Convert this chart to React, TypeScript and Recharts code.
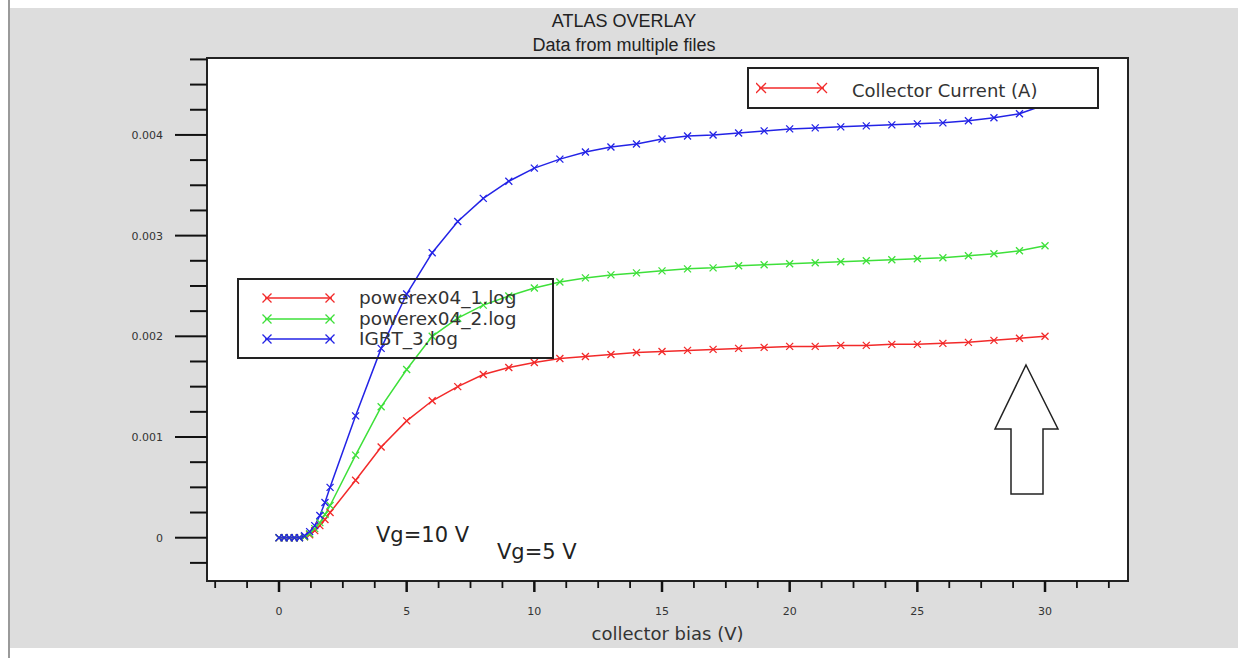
import React from 'react';
import { LineChart, Line, XAxis, YAxis, Legend } from 'recharts';

// collector bias (V)
const BIAS = [0, 0.2, 0.4, 0.6, 0.8, 1, 1.2, 1.4, 1.6, 1.8, 2, 3, 4, 5, 6, 7, 8, 9, 10, 11, 12, 13, 14, 15, 16, 17, 18, 19, 20, 21, 22, 23, 24, 25, 26, 27, 28, 29, 30];

// collector current (A)
const POWEREX_1 = [0, 0, 0, 0, 0, 0.00001, 0.00003, 0.00007, 0.00012, 0.00018, 0.00025, 0.00057, 0.0009, 0.00116, 0.00136, 0.0015, 0.00162, 0.00169, 0.00174, 0.00178, 0.0018, 0.00182, 0.00184, 0.00185, 0.00186, 0.00187, 0.00188, 0.00189, 0.0019, 0.0019, 0.00191, 0.00191, 0.00192, 0.00192, 0.00193, 0.00194, 0.00196, 0.00198, 0.002];
const POWEREX_2 = [0, 0, 0, 0, 0, 0.00001, 0.00004, 0.00009, 0.00015, 0.00023, 0.00032, 0.00082, 0.0013, 0.00167, 0.002, 0.00218, 0.00231, 0.0024, 0.00248, 0.00254, 0.00258, 0.00261, 0.00263, 0.00265, 0.00267, 0.00268, 0.0027, 0.00271, 0.00272, 0.00273, 0.00274, 0.00275, 0.00276, 0.00277, 0.00278, 0.0028, 0.00282, 0.00285, 0.0029];
const IGBT_3 = [0, 0, 0, 0, 0, 0.00002, 0.00006, 0.00012, 0.00022, 0.00035, 0.0005, 0.00121, 0.00188, 0.00242, 0.00283, 0.00314, 0.00337, 0.00354, 0.00367, 0.00376, 0.00383, 0.00388, 0.00391, 0.00396, 0.00399, 0.004, 0.00402, 0.00404, 0.00406, 0.00407, 0.00408, 0.00409, 0.0041, 0.00411, 0.00412, 0.00414, 0.00417, 0.00421, 0.0043];

const X_MAJOR = [0, 5, 10, 15, 20, 25, 30];
const X_TICKS = [-2.5, -1.25, 0, 1.25, 2.5, 3.75, 5, 6.25, 7.5, 8.75, 10, 11.25, 12.5, 13.75, 15, 16.25, 17.5, 18.75, 20, 21.25, 22.5, 23.75, 25, 26.25, 27.5, 28.75, 30, 31.25, 32.5];
const Y_MAJOR = [0, 0.001, 0.002, 0.003, 0.004];
const Y_TICKS = [-0.00025, 0, 0.00025, 0.0005, 0.00075, 0.001, 0.00125, 0.0015, 0.00175, 0.002, 0.00225, 0.0025, 0.00275, 0.003, 0.00325, 0.0035, 0.00375, 0.004, 0.00425, 0.0045, 0.00475];

const SERIES = [
  { key: 'p1', name: 'powerex04_1.log', color: '#f22a2a', values: POWEREX_1 },
  { key: 'p2', name: 'powerex04_2.log', color: '#3ee03a', values: POWEREX_2 },
  { key: 'igbt', name: 'IGBT_3.log', color: '#2323e6', values: IGBT_3 },
];

const data = BIAS.map((x, i) => ({
  x,
  p1: POWEREX_1[i],
  p2: POWEREX_2[i],
  igbt: IGBT_3[i],
}));

const isMajor = (list: number[], v: number) => list.some(m => Math.abs(m - v) < 1e-9);

const XMark = (props: any) => {
  const { cx, cy, stroke, size } = props;
  if (cx == null || cy == null) return null;
  const s = size || 3.5;
  return (
    <path
      d={`M${cx - s},${cy - s}L${cx + s},${cy + s}M${cx - s},${cy + s}L${cx + s},${cy - s}`}
      stroke={stroke}
      strokeWidth={1.3}
      fill="none"
    />
  );
};

const YTick = (props: any) => {
  const { x, y, payload } = props;
  const major = isMajor(Y_MAJOR, payload.value);
  return (
    <g>
      <line x1={x - (major ? 32 : 17)} x2={x} y1={y} y2={y} stroke="#111" strokeWidth={2} />
      {major && (
        <text x={x - 44} y={y + 4} textAnchor="end" fontSize={11} fill="#333" fontFamily="DejaVu Sans">
          {payload.value}
        </text>
      )}
    </g>
  );
};

const XTick = (props: any) => {
  const { x, y, payload } = props;
  const major = isMajor(X_MAJOR, payload.value);
  return (
    <g>
      <line x1={x} x2={x} y1={y} y2={y + (major ? 11 : 7)} stroke="#111" strokeWidth={major ? 2.5 : 1.8} />
      {major && (
        <text x={x} y={y + 34} textAnchor="middle" fontSize={11} fill="#333" fontFamily="DejaVu Sans">
          {payload.value}
        </text>
      )}
    </g>
  );
};

const LegendLine = ({ color }: { color: string }) => (
  <svg width={74} height={14} style={{ display: 'block' }}>
    <line x1={3} x2={70} y1={7} y2={7} stroke={color} strokeWidth={1.5} />
    <XMark cx={5} cy={7} stroke={color} size={4.5} />
    <XMark cx={68} cy={7} stroke={color} size={4.5} />
  </svg>
);

// the legend box in the reference lets the curves show through
const SeriesLegend = () => (
  <div
    style={{
      width: 313,
      height: 69,
      border: '2px solid #222',
      background: 'transparent',
      fontFamily: 'DejaVu Sans',
      fontSize: 18.5,
      color: '#333',
      paddingTop: 8,
    }}
  >
    {SERIES.map(s => (
      <div key={s.key} style={{ display: 'flex', alignItems: 'center', height: 20.5 }}>
        <div style={{ marginLeft: 23, width: 97 }}>
          <LegendLine color={s.color} />
        </div>
        <span style={{ lineHeight: '20px' }}>{s.name}</span>
      </div>
    ))}
  </div>
);

export default function App() {
  return (
    <div style={{ position: 'absolute', left: 0, top: 0, width: 1248, height: 658, background: '#fff', overflow: 'hidden' }}>
      <div style={{ position: 'absolute', left: 8, top: 0, width: 1.5, height: 658, background: '#9a9a9a' }} />
      <div style={{ position: 'absolute', left: 10, top: 8, width: 1228, height: 640, background: '#dddddd' }} />
      <div
        style={{
          position: 'absolute',
          left: 10,
          width: 1228,
          top: 9,
          textAlign: 'center',
          fontFamily: 'Liberation Sans',
          fontSize: 18,
          color: '#222',
          lineHeight: '24px',
        }}
      >
        <div>ATLAS OVERLAY</div>
        <div>Data from multiple files</div>
      </div>
      <div
        style={{
          position: 'absolute',
          left: 206,
          top: 57,
          width: 923,
          height: 525,
          background: '#fff',
          border: '2px solid #222',
          boxSizing: 'border-box',
        }}
      />
      <div
        style={{
          position: 'absolute',
          left: 207,
          width: 921,
          top: 623,
          textAlign: 'center',
          fontFamily: 'DejaVu Sans',
          fontSize: 18,
          color: '#333',
        }}
      >
        collector bias (V)
      </div>
      <div style={{ position: 'absolute', left: 0, top: 0 }}>
        <LineChart width={1248} height={658} data={data} margin={{ top: 58, right: 120, bottom: 37, left: 147 }}>
          <XAxis
            dataKey="x"
            type="number"
            domain={[-2.82, 33.25]}
            ticks={X_TICKS}
            interval={0}
            allowDataOverflow
            height={40}
            tickSize={0}
            tickMargin={0}
            axisLine={false}
            tickLine={false}
            tick={<XTick />}
          />
          <YAxis
            type="number"
            domain={[-0.00043, 0.004764]}
            ticks={Y_TICKS}
            interval={0}
            allowDataOverflow
            width={60}
            tickSize={0}
            tickMargin={0}
            axisLine={false}
            tickLine={false}
            tick={<YTick />}
          />
          <Legend
            layout="vertical"
            align="center"
            verticalAlign="middle"
            wrapperStyle={{ left: 237, top: 278, width: 317, height: 81 }}
            content={() => <SeriesLegend />}
          />
          {SERIES.map(s => (
            <Line
              key={s.key}
              dataKey={s.key}
              name={s.name}
              type="linear"
              stroke={s.color}
              strokeWidth={1.5}
              dot={<XMark />}
              activeDot={false}
              isAnimationActive={false}
            />
          ))}
        </LineChart>
      </div>
      <div
        style={{
          position: 'absolute',
          left: 747,
          top: 67,
          width: 348,
          height: 38,
          border: '2px solid #222',
          background: '#fff',
          fontFamily: 'DejaVu Sans',
          fontSize: 18,
          color: '#333',
        }}
      >
        <svg width={72} height={14} style={{ position: 'absolute', left: 7, top: 12 }}>
          <line x1={3} x2={68} y1={7} y2={7} stroke="#f22a2a" strokeWidth={1.5} />
          <XMark cx={5} cy={7} stroke="#f22a2a" size={5} />
          <XMark cx={66} cy={7} stroke="#f22a2a" size={5} />
        </svg>
        <span style={{ position: 'absolute', left: 103, top: 11 }}>Collector Current (A)</span>
      </div>
      <div style={{ position: 'absolute', left: 376, top: 523, fontFamily: 'DejaVu Sans', fontSize: 21, color: '#222' }}>Vg=10 V</div>
      <div style={{ position: 'absolute', left: 497, top: 540, fontFamily: 'DejaVu Sans', fontSize: 21, color: '#222' }}>Vg=5 V</div>
      <svg style={{ position: 'absolute', left: 0, top: 0 }} width={1248} height={658} pointerEvents="none">
        <path
          d="M1026,365 L1058,429 L1043,429 L1043,494 L1011,494 L1011,429 L995,429 Z"
          fill="#fff"
          stroke="#222"
          strokeWidth={1.5}
        />
      </svg>
    </div>
  );
}
